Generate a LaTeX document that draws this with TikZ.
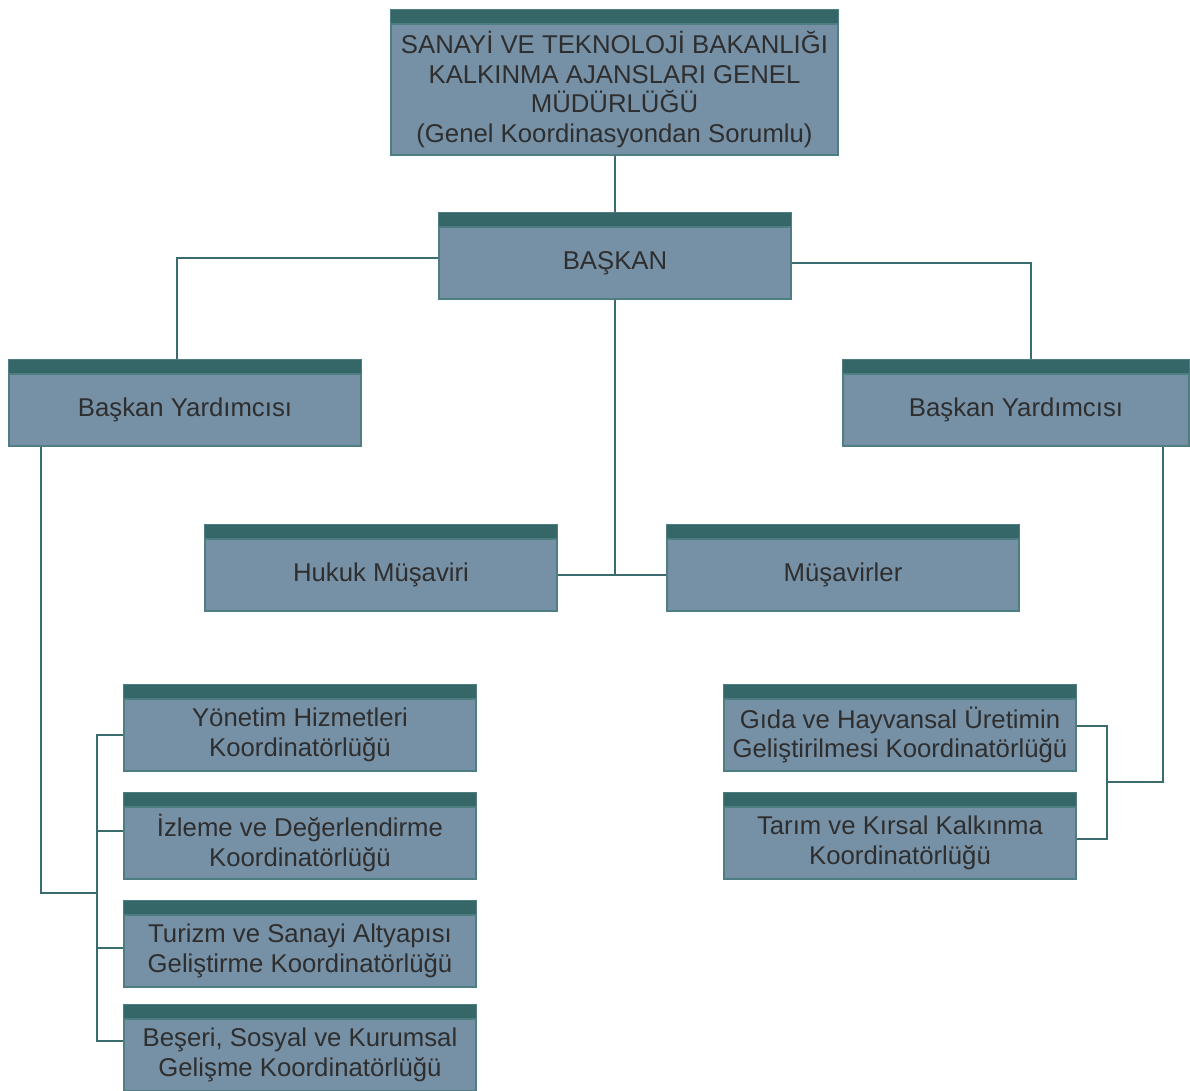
\documentclass[tikz,border=0pt]{standalone}
\usepackage{fontspec}
\setmainfont{Liberation Sans}
\usepackage{tikz}
\usetikzlibrary{positioning,calc}
\definecolor{boxfill}{HTML}{7690A6}
\definecolor{boxhead}{HTML}{356668}
\definecolor{boxline}{HTML}{4E7E82}
\definecolor{linkcol}{HTML}{3A6B6E}
\definecolor{txtcol}{HTML}{2E2E2E}
\tikzstyle{unit} = [rectangle, draw=boxline, line width=0.9pt, fill=boxfill, text=txtcol, align=center, font=\fontsize{19.3}{22.3}\selectfont, minimum width=264pt, minimum height=54pt, inner sep=2pt]
\tikzstyle{link} = [draw=linkcol, line width=1.5pt]

\begin{document}
\begin{tikzpicture}[x=0.75pt,y=-0.75pt]
  \useasboundingbox (0,0) rectangle (1190,1091);
  \def\hd{10.5pt}
  % boxes
  \node[unit, minimum width=335.25pt, minimum height=98.25pt] (top) at (614.5,89.5) {SANAYİ VE TEKNOLOJİ BAKANLIĞI\\KALKINMA AJANSLARI GENEL\\MÜDÜRLÜĞÜ\\(Genel Koordinasyondan Sorumlu)};
  \node[unit] (bsk) at (615,263) {BAŞKAN};
  \node[unit] (byl) at (185,410) {Başkan Yardımcısı};
  \node[unit, minimum width=259.5pt] (byr) at (1016,410) {Başkan Yardımcısı};
  \node[unit] (hkk) at (381,575) {Hukuk Müşaviri};
  \node[unit] (msv) at (843,575) {Müşavirler};
  \node[unit] (ynt) at (300,735) {Yönetim Hizmetleri\\Koordinatörlüğü};
  \node[unit] (izl) at (300,843) {İzleme ve Değerlendirme\\Koordinatörlüğü};
  \node[unit] (trz) at (300,951) {Turizm ve Sanayi Altyapısı\\Geliştirme Koordinatörlüğü};
  \node[unit] (bsr) at (300,1055) {Beşeri, Sosyal ve Kurumsal\\Gelişme Koordinatörlüğü};
  \node[unit] (gda) at (900,735) {Gıda ve Hayvansal Üretimin\\Geliştirilmesi Koordinatörlüğü};
  \node[unit] (trm) at (900,843) {Tarım ve Kırsal Kalkınma\\Koordinatörlüğü};
  % header bars
  \foreach \n in {top,bsk,byl,byr,hkk,msv,ynt,izl,trz,bsr,gda,trm} {
    \filldraw[fill=boxhead, draw=boxline, line width=0.9pt] (\n.north west) rectangle ([yshift=\hd]\n.north east);
    \coordinate (\n h) at ([yshift=\hd]\n.north);
  }
  % chair
  \draw[link] (top.south) -- (top.south |- bskh);
  \draw[link] ([yshift=3.75pt]bsk.west) -| ([xshift=-6pt]bylh);
  \draw[link] (bsk.east) -| ([xshift=11.25pt]byrh);
  \coordinate (mid) at (bsk.south |- hkk.east);
  \draw[link] (bsk.south) -- (mid);
  \draw[link] (hkk.east) -- (msv.west);
  % left deputy
  \coordinate (lbus) at (97,893);
  \draw[link] ([xshift=24.75pt]byl.south west) |- (lbus);
  \draw[link] (ynt.west) -| (lbus) |- ([yshift=10.5pt]bsr.west);
  \draw[link] ([yshift=9pt]izl.west) -- ([yshift=9pt]izl.west -| lbus);
  \draw[link] ([yshift=2.25pt]trz.west) -- ([yshift=2.25pt]trz.west -| lbus);
  % right deputy
  \coordinate (rbus) at (1107,782);
  \draw[link] ([xshift=-20.25pt]byr.south east) |- (rbus);
  \draw[link] ([yshift=6.75pt]gda.east) -| (rbus) |- ([yshift=3pt]trm.east);
\end{tikzpicture}
\end{document}
